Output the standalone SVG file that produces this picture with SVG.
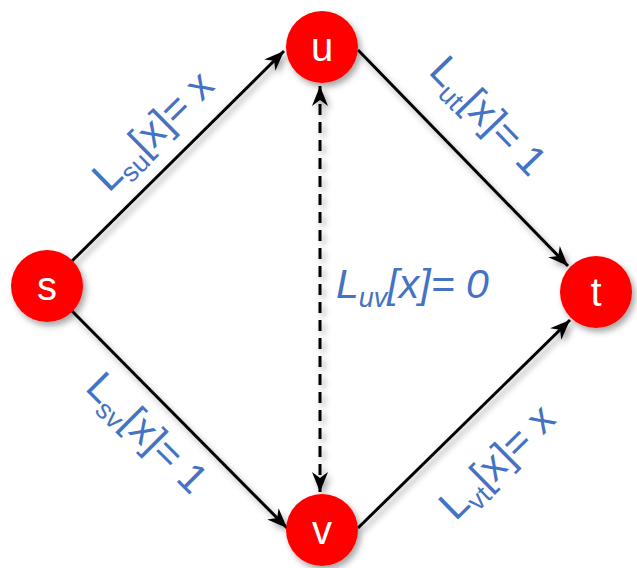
<svg xmlns="http://www.w3.org/2000/svg" width="637" height="568" viewBox="0 0 637 568">
<style>
.edge{stroke:#000;stroke-width:3;fill:none}
.dash{stroke-dasharray:11 7}
.node{fill:#ff0000}
.nlabel{fill:#fff;font-family:"Liberation Sans",Arial,sans-serif;font-size:40px;text-anchor:middle}
.elabel{fill:#4472c4;font-family:"Liberation Sans",Arial,sans-serif;font-size:41px}
.sub{font-size:27px}
</style>
<defs>
<filter id="sh" x="-30%" y="-30%" width="160%" height="160%">
<feDropShadow dx="3" dy="4" stdDeviation="3" flood-color="#000" flood-opacity="0.35"/>
</filter>
<marker id="ah" markerUnits="userSpaceOnUse" markerWidth="22" markerHeight="18" viewBox="0 0 22 18" refX="20" refY="9" orient="auto-start-reverse">
<path d="M0,1 L20,9 L0,17 L6,9 z" fill="#000"/>
</marker>
</defs>
<g id="connectors" filter="url(#sh)">
<line class="edge" x1="72" y1="261" x2="284" y2="51" marker-end="url(#ah)"/>
<line class="edge" x1="358" y1="50" x2="568" y2="266" marker-end="url(#ah)"/>
<line class="edge" x1="72" y1="311" x2="287" y2="528" marker-end="url(#ah)"/>
<line class="edge" x1="358" y1="528" x2="570" y2="320" marker-end="url(#ah)"/>
<line class="edge dash" x1="320" y1="86" x2="320" y2="492" marker-start="url(#ah)" marker-end="url(#ah)"/>
</g>
<g id="node-s"><circle class="node" cx="47" cy="286" r="36" filter="url(#sh)"/><text class="nlabel" x="47" y="300">s</text></g>
<g id="node-u"><circle class="node" cx="322" cy="47" r="36" filter="url(#sh)"/><text class="nlabel" x="322" y="61">u</text></g>
<g id="node-t"><circle class="node" cx="596" cy="292" r="36" filter="url(#sh)"/><text class="nlabel" x="596" y="306">t</text></g>
<g id="node-v"><circle class="node" cx="322" cy="530" r="36" filter="url(#sh)"/><text class="nlabel" x="322" y="544">v</text></g>
<g id="labels">
<text class="elabel" text-anchor="middle" transform="translate(154,132) rotate(-44.5)" y="12">L<tspan class="sub" dy="9">su</tspan><tspan dy="-9">[x]= x</tspan></text>
<text class="elabel" text-anchor="middle" transform="translate(487,117) rotate(46)" y="12">L<tspan class="sub" dy="9">ut</tspan><tspan dy="-9">[x]= 1</tspan></text>
<text class="elabel" text-anchor="middle" transform="translate(146,434) rotate(45)" y="12">L<tspan class="sub" dy="9">sv</tspan><tspan dy="-9">[x]= 1</tspan></text>
<text class="elabel" text-anchor="middle" transform="translate(498,463) rotate(-44.5)" y="12">L<tspan class="sub" dy="9">vt</tspan><tspan dy="-9">[x]= x</tspan></text>
<text class="elabel" font-style="italic" x="336" y="298">L<tspan class="sub" dy="9">uv</tspan><tspan dy="-9">[x]= 0</tspan></text>
</g>
</svg>
